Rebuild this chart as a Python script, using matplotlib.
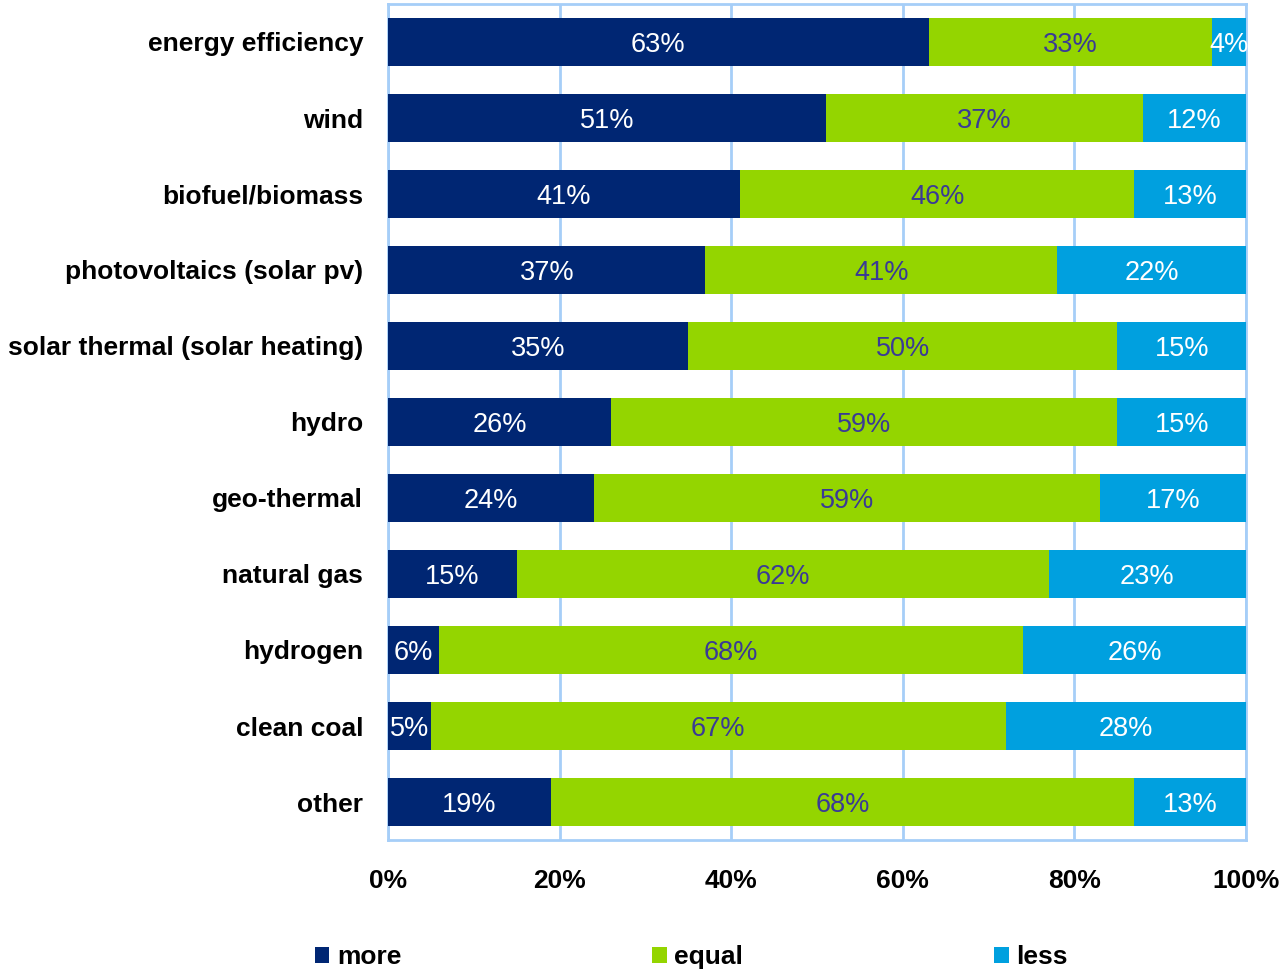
import matplotlib as mpl
mpl.use('agg')
import matplotlib.pyplot as plt
import numpy as np

categories = ['energy efficiency', 'wind', 'biofuel/biomass', 'photovoltaics (solar pv)',
              'solar thermal (solar heating)', 'hydro', 'geo-thermal', 'natural gas',
              'hydrogen', 'clean coal', 'other']
more = [63, 51, 41, 37, 35, 26, 24, 15, 6, 5, 19]
equal = [33, 37, 46, 41, 50, 59, 59, 62, 68, 67, 68]
less = [4, 12, 13, 22, 15, 15, 17, 23, 26, 28, 13]
series_names = ['more', 'equal', 'less']

colors = ['#002673', '#94D500', '#00A0DF']
text_colors = ['white', '#3A3A96', 'white']
grid_col = '#A6CEF8'

plt.rcParams['font.family'] = ['Liberation Sans', 'DejaVu Sans']

fig = plt.figure(figsize=(12.82, 9.69), dpi=100)
ax = fig.add_axes([388/1282, 1-840/969, (1246-388)/1282, (840-4)/969])

y = np.arange(len(categories))
left = np.zeros(len(categories))
for vals, name, c, tc in zip([more, equal, less], series_names, colors, text_colors):
    vals = np.array(vals, dtype=float)
    ax.barh(y, vals, left=left, height=0.63, color=c, label=name, zorder=3)
    for yi, (l, v) in enumerate(zip(left, vals)):
        ax.text(l + v/2, yi, '%d%%' % v, ha='center', va='center_baseline',
                color=tc, fontsize=19.5, zorder=4)
    left += vals

ax.set_xlim(0, 100)
ax.set_ylim(len(categories) - 0.5, -0.5)
ax.set_yticks(y)
ax.set_yticklabels(categories, fontsize=19, fontweight='bold')
ax.set_xticks(np.arange(0, 101, 20))
ax.set_xticklabels(['%d%%' % t for t in range(0, 101, 20)], fontsize=19, fontweight='bold')
ax.tick_params(axis='both', length=0)
ax.tick_params(axis='x', pad=21)
ax.tick_params(axis='y', pad=18)
ax.xaxis.grid(True, color=grid_col, linewidth=2, zorder=0)
for s in ax.spines.values():
    s.set_color(grid_col)
    s.set_linewidth(2)

fig.legend(loc='center left', bbox_to_anchor=(304/1282, 1-957/969), ncol=3, frameon=False,
           prop={'weight': 'bold', 'size': 19}, handlelength=0.55,
           handleheight=0.55, handletextpad=0.3, columnspacing=9.5, borderaxespad=0)

plt.savefig('out.png', dpi=100)
